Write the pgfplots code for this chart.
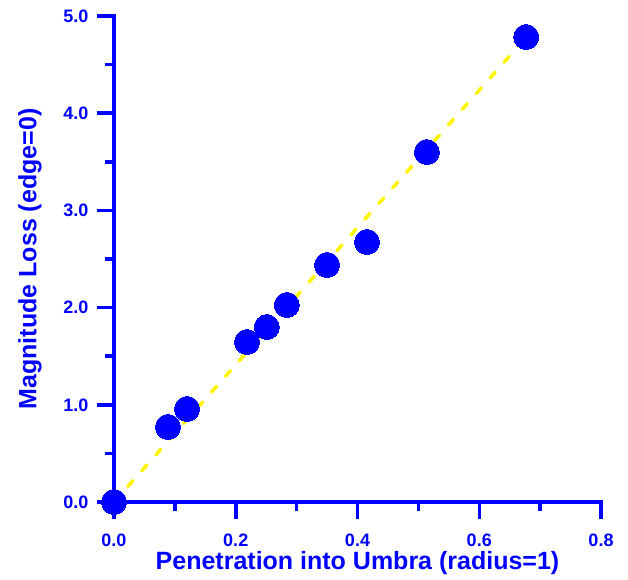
\documentclass[border=0pt]{standalone}
\usepackage{pgfplots}
\pgfplotsset{compat=1.18}
\usepackage{fontspec}
\setmainfont{Liberation Sans}
\definecolor{pblue}{RGB}{0,0,255}
\definecolor{pyellow}{RGB}{255,245,0}
\begin{document}
\begin{tikzpicture}
\begin{axis}[
  scale only axis,
  width=487pt, height=486pt,
  xmin=0, xmax=0.8, ymin=0, ymax=5,
  axis lines*=left,
  axis line style={pblue, line width=3.5pt, line cap=rect},
  clip=false,
  xtick={0,0.2,0.4,0.6,0.8},
  minor xtick={0.1,0.3,0.5,0.7},
  ytick={0,1,2,3,4,5},
  minor ytick={0.5,1.5,2.5,3.5,4.5},
  tick align=outside,
  major tick length=17pt,
  minor tick length=9pt,
  tick style={pblue, line width=3.5pt},
  every major tick/.append style={pblue, line width=3.5pt},
  every minor tick/.append style={pblue, line width=3.5pt},
  /pgf/number format/assume math mode=true,
  xticklabel shift=11pt,
  yticklabel shift=5pt,
  xticklabel={\pgfmathprintnumber[fixed,fixed zerofill,precision=1,assume math mode=true]{\tick}},
  yticklabel={\pgfmathprintnumber[fixed,fixed zerofill,precision=1,assume math mode=true]{\tick}},
  tick label style={font=\fontsize{18}{18}\selectfont\bfseries, text=pblue},
  xlabel={Penetration into Umbra (radius=1)},
  ylabel={Magnitude Loss (edge=0)},
  every axis x label/.style={at={(axis description cs:0.5,0)}, anchor=center, yshift=-61pt},
  every axis y label/.style={at={(axis description cs:0,0.5)}, anchor=center, rotate=90, yshift=84pt},
  label style={font=\fontsize{25}{25}\selectfont\bfseries, text=pblue},
]
\addplot[pyellow, line width=3.5pt, line cap=round, dash pattern=on 7.5pt off 13.5pt] coordinates {(0,0) (0.677,4.78)};
\addplot[only marks, mark=*, mark size=12.5pt, mark options={fill=pblue, draw=pblue, line width=0pt}] coordinates {
(0,0)
(0.0887,0.772)
(0.120,0.957)
(0.2185,1.646)
(0.251,1.80)
(0.284,2.027)
(0.350,2.438)
(0.4156,2.675)
(0.514,3.600)
(0.677,4.784)
};
\end{axis}
\path (-114pt,-77pt) rectangle (514pt,502pt);
\end{tikzpicture}
\end{document}
